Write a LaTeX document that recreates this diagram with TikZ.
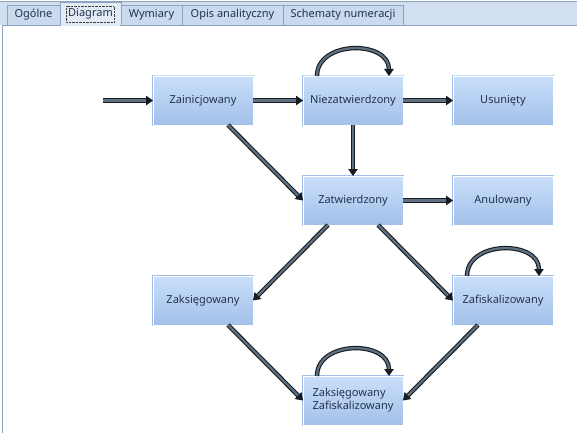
\documentclass[tikz,border=0pt]{standalone}
\usepackage{fontspec}
\setmainfont{Noto Sans}
\usetikzlibrary{positioning,arrows.meta}

\definecolor{bandfill}{HTML}{D2DFF0}
\definecolor{bandline}{HTML}{8EA3C0}
\definecolor{tabfill}{HTML}{C9D9EE}
\definecolor{tabsel}{HTML}{E2EAF6}
\definecolor{labeltext}{HTML}{22334E}
\definecolor{boxtop}{HTML}{C9DFFA}
\definecolor{boxbottom}{HTML}{A3C0EA}
\definecolor{boxline}{HTML}{9FBFE8}
\definecolor{flowline}{HTML}{171C21}
\definecolor{flowcore}{HTML}{607183}

\begin{document}
\begin{tikzpicture}[x=1pt,y=-1pt,node distance=51pt and 50pt,
tab/.style={draw=bandline, fill=tabfill, anchor=north west, minimum height=20pt, inner sep=0pt, outer sep=0pt, text=labeltext, font=\fontsize{11}{13}\selectfont},
state/.style={preaction={draw=boxline, line width=2.6pt}, draw=white, line width=0.9pt, top color=boxtop, bottom color=boxbottom, minimum width=100pt, minimum height=49pt, inner sep=0pt, outer sep=0pt, align=left, text=labeltext, font=\fontsize{11}{13}\selectfont},
flow/.style={draw=flowline, double=flowcore, double distance=2.2pt, line width=1.1pt, -{Triangle[length=7pt,width=9.5pt]}}]
\useasboundingbox (0,0) rectangle (577,433);
% tab strip
\fill[bandfill] (0,1) rectangle (577,25);
\draw[bandline] (0,1.5) -- (577,1.5);
\fill[white] (2,25) rectangle (577,433);
\draw[bandline] (2.5,433) -- (2.5,25) -- (577,25);
\node[tab, minimum width=53pt] (tabogolne) at (7,5) {Ogólne};
\node[tab, minimum width=61pt] (tabwymiary) at (121,5) {Wymiary};
\node[tab, minimum width=101pt] (tabopis) at (182,5) {Opis analityczny};
\node[tab, minimum width=120pt] (tabschematy) at (283,5) {Schematy numeracji};
\node[tab, fill=tabsel, minimum width=61pt, minimum height=23pt, font=\fontsize{11}{13}\selectfont\bfseries] (tabdiagram) at (60,2.5) {Diagram};
\draw[tabsel, line width=1.2pt] ([xshift=0.8pt]tabdiagram.south west) -- ([xshift=-0.8pt]tabdiagram.south east);
\draw[black!75, densely dotted] ([xshift=6pt,yshift=-4pt]tabdiagram.north west) rectangle ([xshift=-7pt,yshift=3.5pt]tabdiagram.south east);

% states
\node[state] (zain) at (203,100.5) {Zainicjowany};
\node[state, right=of zain] (niez) {Niezatwierdzony};
\node[state, right=of niez] (usun) {Usunięty};
\node[state, below=of niez] (zatw) {Zatwierdzony};
\node[state, right=of zatw] (anul) {Anulowany};
\node[state, below left=of zatw] (zaks) {Zaksięgowany};
\node[state, below right=of zatw] (zafis) {Zafiskalizowany};
\node[state, below right=of zaks] (zakzaf) {Zaksięgowany\\Zafiskalizowany};
\coordinate[left=50pt of zain] (entry);

% transitions
\draw[flow] (entry) -- (zain);
\draw[flow] (zain) -- (niez);
\draw[flow] (niez) -- (usun);
\draw[flow] (niez) -- (zatw);
\draw[flow] (zatw) -- (anul);
\draw[flow] ([xshift=25pt]zain.south) -- (zatw.west);
\draw[flow] ([xshift=-25pt]zatw.south) -- (zaks.east);
\draw[flow] ([xshift=25pt]zatw.south) -- (zafis.west);
\draw[flow] ([xshift=25pt]zaks.south) -- (zakzaf.west);
\draw[flow] ([xshift=-25pt]zafis.south) -- (zakzaf.east);
\draw[flow] ([xshift=14pt]niez.north west) .. controls +(0,-36) and +(0,-36) .. ([xshift=-14pt]niez.north east);
\draw[flow] ([xshift=14pt]zafis.north west) .. controls +(0,-36) and +(0,-36) .. ([xshift=-14pt]zafis.north east);
\draw[flow] ([xshift=14pt]zakzaf.north west) .. controls +(0,-36) and +(0,-36) .. ([xshift=-14pt]zakzaf.north east);
\end{tikzpicture}
\end{document}
